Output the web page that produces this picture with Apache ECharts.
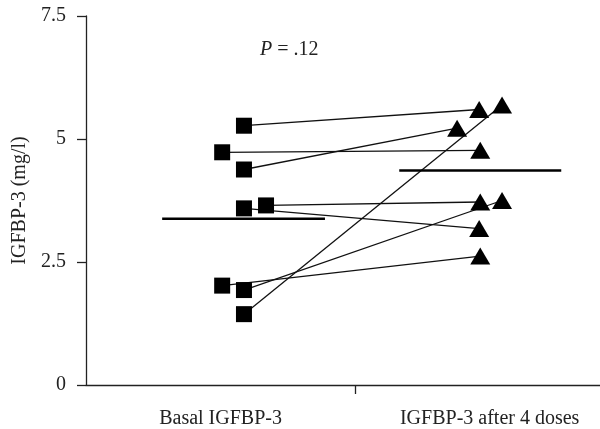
<!DOCTYPE html>
<html>
<head>
<meta charset="utf-8">
<script src="https://cdn.jsdelivr.net/npm/echarts@6/dist/echarts.min.js"></script>
<style>
  html, body { margin: 0; padding: 0; background: #fff; }
  #chart { width: 600px; height: 429px; }
</style>
</head>
<body>
<div id="chart"></div>
<script>
// groups on the x axis (value axis, group centres at 0.5 and 1.5)
var groups = ['Basal IGFBP-3', 'IGFBP-3 after 4 doses'];
var groupPos = [0.5, 1.5];

// per subject: basal and after-4-doses IGFBP-3 (mg/l), with horizontal jitter
var basalX = [0.587, 0.506, 0.587, 0.587, 0.669, 0.506, 0.587, 0.587];
var basal  = [5.27, 4.73, 4.38, 3.59, 3.65, 2.02, 1.93, 1.44];
var afterX = [1.461, 1.465, 1.379, 1.461, 1.465, 1.465, 1.546, 1.546];
var after  = [5.60, 4.77, 5.22, 3.18, 3.72, 2.62, 3.75, 5.69];

// group mean bars
var meanBasal = 3.38, meanBasalX = [0.283, 0.888];
var meanAfter = 4.36, meanAfterX = [1.164, 1.766];

var yTicks = [0, 2.5, 5, 7.5];

var font = 'Liberation Serif';
var ink = '#222';

var series = [];
for (var i = 0; i < basal.length; i++) {
  series.push({
    type: 'line',
    data: [[basalX[i], basal[i]], [afterX[i], after[i]]],
    symbol: 'none',
    lineStyle: { color: '#111', width: 1.3 },
    silent: true,
    z: 2
  });
}
series.push({
  type: 'line',
  data: [[meanBasalX[0], meanBasal], [meanBasalX[1], meanBasal]],
  symbol: 'none',
  lineStyle: { color: '#000', width: 2.6 },
  z: 2
});
series.push({
  type: 'line',
  data: [[meanAfterX[0], meanAfter], [meanAfterX[1], meanAfter]],
  symbol: 'none',
  lineStyle: { color: '#000', width: 2.6 },
  z: 2
});
series.push({
  type: 'scatter',
  symbol: 'rect',
  symbolSize: 16,
  itemStyle: { color: '#000', opacity: 1 },
  data: basal.map(function (v, i) { return [basalX[i], v]; }),
  z: 3
});
series.push({
  type: 'scatter',
  symbol: 'triangle',
  symbolSize: [20, 17],
  itemStyle: { color: '#000', opacity: 1 },
  data: after.map(function (v, i) { return [afterX[i], v]; }),
  z: 3
});

var chart = echarts.init(document.getElementById('chart'));
chart.setOption({
  animation: false,
  backgroundColor: '#fff',
  textStyle: { fontFamily: font },
  title: {
    text: '{i|P} = .12',
    left: 260,
    top: 40,
    padding: 0,
    textStyle: {
      fontFamily: font, fontSize: 20, fontWeight: 'normal', color: ink,
      rich: { i: { fontFamily: font, fontSize: 20, fontStyle: 'italic', color: ink } }
    }
  },
  grid: { left: 86, right: 0, top: 16, bottom: 44 },
  xAxis: {
    type: 'value',
    min: 0,
    max: 1.91,
    splitLine: { show: false },
    axisLine: { lineStyle: { color: ink, width: 1.3 } },
    axisTick: { customValues: [1], length: 9, lineStyle: { color: ink, width: 1.3 } },
    axisLabel: {
      customValues: groupPos,
      margin: 24,
      fontFamily: font,
      fontSize: 20,
      color: ink,
      formatter: function (v) {
        var k = groupPos.indexOf(v);
        return k >= 0 ? groups[k] : '';
      }
    }
  },
  yAxis: {
    type: 'value',
    min: yTicks[0],
    max: yTicks[yTicks.length - 1],
    interval: 2.5,
    name: 'IGFBP-3 (mg/l)',
    nameLocation: 'middle',
    nameGap: 54,
    nameTextStyle: { fontFamily: font, fontSize: 20, color: ink },
    splitLine: { show: false },
    axisLine: { show: true, lineStyle: { color: ink, width: 1.3 } },
    axisTick: { show: true, length: 9, lineStyle: { color: ink, width: 1.3 } },
    axisLabel: { margin: 20, fontFamily: font, fontSize: 20, color: ink }
  },
  series: series
});
</script>
</body>
</html>
